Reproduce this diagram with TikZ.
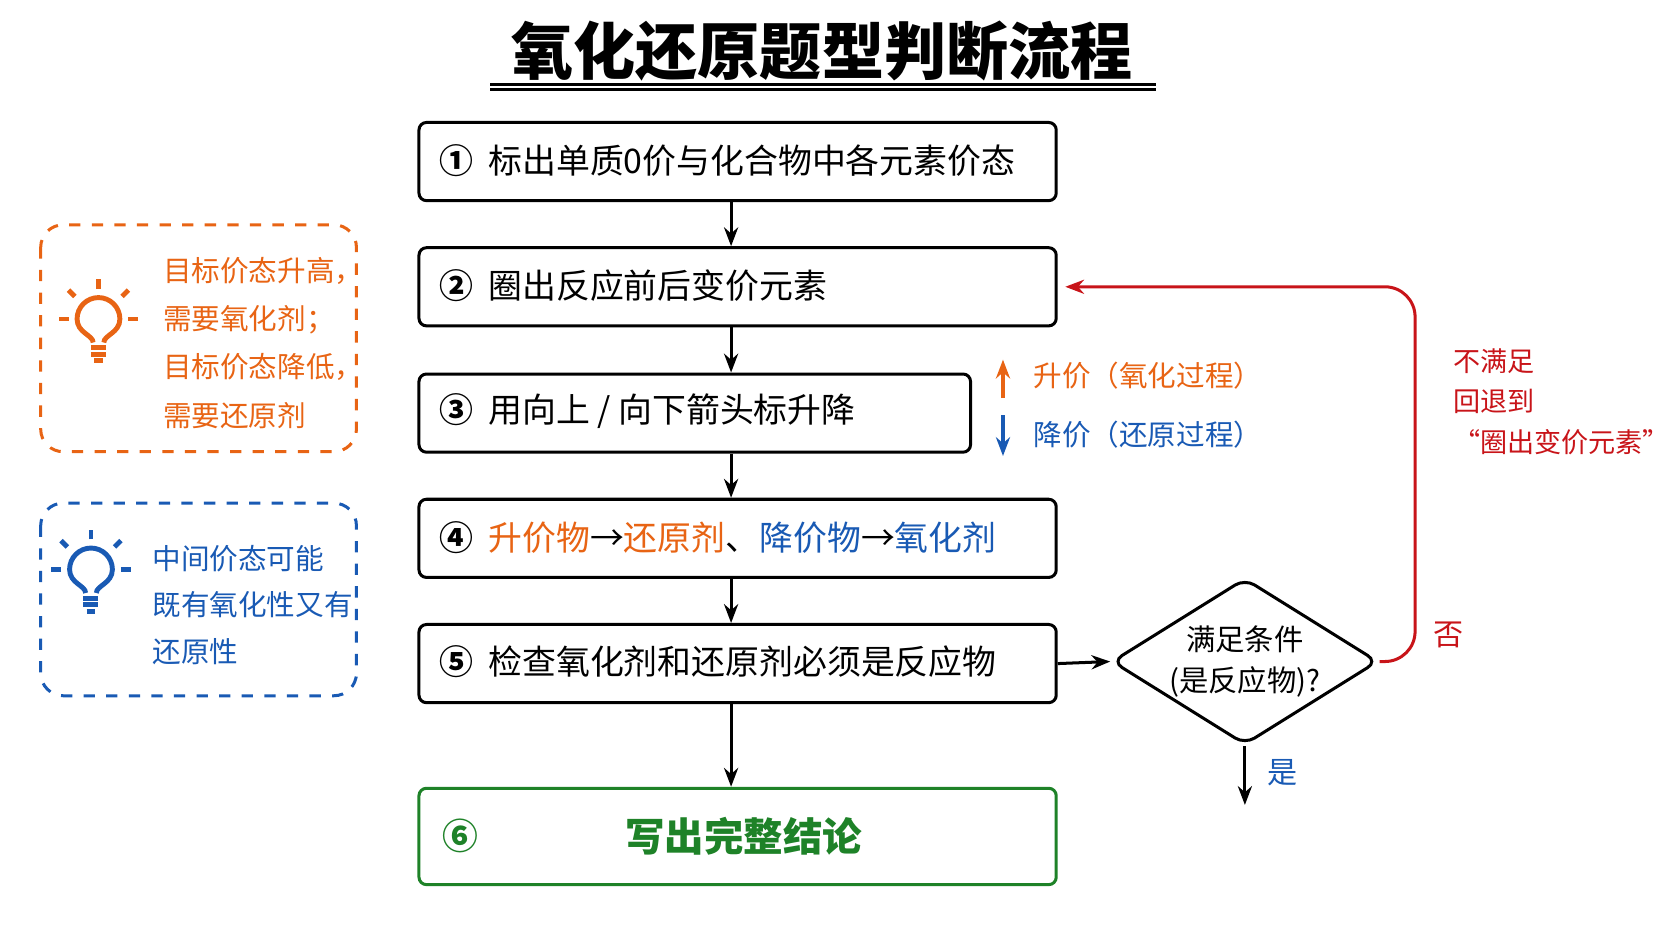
\documentclass[tikz,border=0pt]{standalone}
\usepackage{fontspec}
\setmainfont{Noto Sans CJK SC}
\usetikzlibrary{arrows.meta, shapes.geometric, positioning}
\definecolor{ornge}{RGB}{232,100,20}
\definecolor{blu}{RGB}{25,90,180}
\definecolor{grn}{RGB}{30,130,40}
\definecolor{rd}{RGB}{200,20,25}
\tikzset{
  stepbox/.style={draw, thick, rounded corners=2pt, minimum height=0.73cm, anchor=north west,
    fill=white, font=\fontsize{9}{10}\selectfont, text depth=0pt},
  steptext/.style={font=\fontsize{9}{10}\selectfont, anchor=west},
  flow/.style={-{Stealth[length=5pt]}, thick},
  tip/.style={draw, thick, dashed, rounded corners=6pt},
  side/.style={font=\fontsize{7.6}{9}\selectfont, anchor=west},
}
\newcommand{\bulb}[2]{% position, colour
  \begin{scope}[shift={#1}, yscale=-1, #2, line width=1.3pt]
    \draw (-5,13) .. controls (-5,20) and (-20,22) .. (-20,35)
      arc[start angle=180, end angle=0, radius=20] .. controls (20,22) and (5,20) .. (5,13);
    \draw (-7,8) -- (7,8); \draw (-7,2) -- (7,2); \draw (-4,-4) -- (4,-4);
    \draw (0,63) -- (0,72); \draw (-22,56) -- (-28,62); \draw (22,56) -- (28,62);
    \draw (-28,35) -- (-37,35); \draw (28,35) -- (37,35);
  \end{scope}}
\begin{document}
\begin{tikzpicture}[x=0.01cm, y=-0.01cm]
  \useasboundingbox (0,0) rectangle (1562,879);
  % Title
  \node[font=\fontsize{16.5}{20}\selectfont\bfseries] (title) at (768,48) {氧化还原题型判断流程};
  \draw[thick] (458,79) -- (1080,79);
  \draw[thick] (458,84) -- (1080,84);
  % Steps
  \node[stepbox, minimum width=5.95cm] (s1) at (390,113) {};
  \node[stepbox, minimum width=5.95cm] (s2) at (390,230) {};
  \node[stepbox, minimum width=5.15cm] (s3) at (390,348) {};
  \node[stepbox, minimum width=5.95cm] (s4) at (390,465) {};
  \node[stepbox, minimum width=5.95cm] (s5) at (390,582) {};
  \node[stepbox, draw=grn, minimum width=5.95cm, minimum height=0.9cm] (s6) at (390,735) {};
  \node[steptext] (t1) at (398,150) {\textbf{①}\ \ 标出单质0价与化合物中各元素价态};
  \node[steptext] (t2) at (398,267) {\textbf{②}\ \ 圈出反应前后变价元素};
  \node[steptext] (t3) at (398,384) {\textbf{③}\ \ 用向上 / 向下箭头标升降};
  \node[steptext] (t4) at (398,502) {\textbf{④}\ \ \textcolor{ornge}{升价物}→\textcolor{ornge}{还原剂}、\textcolor{blu}{降价物}→\textcolor{blu}{氧化剂}};
  \node[steptext] (t5) at (398,618) {\textbf{⑤}\ \ 检查氧化剂和还原剂必须是反应物};
  \node[font=\fontsize{9.5}{11}\selectfont\bfseries, text=grn] (n6) at (430,781) {⑥};
  \node[font=\fontsize{10.5}{12}\selectfont\bfseries, text=grn] (t6) at (695,781) {写出完整结论};
  \foreach \a/\b in {s1/s2, s2/s3, s3/s4, s4/s5, s5/s6}
    \draw[flow] (\a.south -| 683,0) -- (\b.north -| 683,0);
  % Decision
  \node[draw, thick, diamond, aspect=1.6, minimum width=2.45cm, minimum height=1.53cm,
    inner sep=0pt, align=center, font=\fontsize{7.8}{11}\selectfont, rounded corners=3pt] (dec) at (1163,618)
    {满足条件\\(是反应物)?};
  \draw[flow] (s5.east) -- (dec.west);
  \coordinate (yes) at (1163,752);
  \draw[flow] (dec.south) -- (yes);
  \node[text=blu, font=\fontsize{8}{9}\selectfont] (yl) at (1198,722) {是};
  \coordinate (back) at (1322,618);
  \draw[flow, rd, rounded corners=8pt] (dec.east) -- (back) |- ([xshift=2pt]s2.east);
  \node[text=rd, font=\fontsize{8}{9}\selectfont] (nl) at (1353,593) {否};
  \node[text=rd, align=left, anchor=north west, font=\fontsize{7.2}{10.8}\selectfont] (nb) at (1345,313)
    {不满足\\回退到\\“圈出变价元素”};
  % Up / down legend
  \coordinate (ua) at (937,372); \coordinate (ub) at (937,336);
  \coordinate (da) at (937,388); \coordinate (db) at (937,426);
  \draw[-{Stealth[length=5pt]}, very thick, ornge] (ua) -- (ub);
  \draw[-{Stealth[length=5pt]}, very thick, blu] (da) -- (db);
  \node[side, text=ornge] (up) at (953,351) {升价（氧化过程）};
  \node[side, text=blu] (dn) at (953,406) {降价（还原过程）};
  % Tips
  \draw[tip, ornge] (38,210) rectangle (333,422);
  \bulb{(92,333)}{ornge}
  \node[side, text=ornge, align=left, anchor=north west, font=\fontsize{7.6}{12.8}\selectfont] (tipa) at (140,228)
    {目标价态升高，\\需要氧化剂；\\目标价态降低，\\需要还原剂};
  \draw[tip, blu] (38,470) rectangle (333,650);
  \bulb{(85,567)}{blu}
  \node[side, text=blu, align=left, anchor=north west, font=\fontsize{7.6}{12.3}\selectfont] (tipb) at (130,497)
    {中间价态可能\\既有氧化性又有\\还原性};
\end{tikzpicture}
\end{document}
